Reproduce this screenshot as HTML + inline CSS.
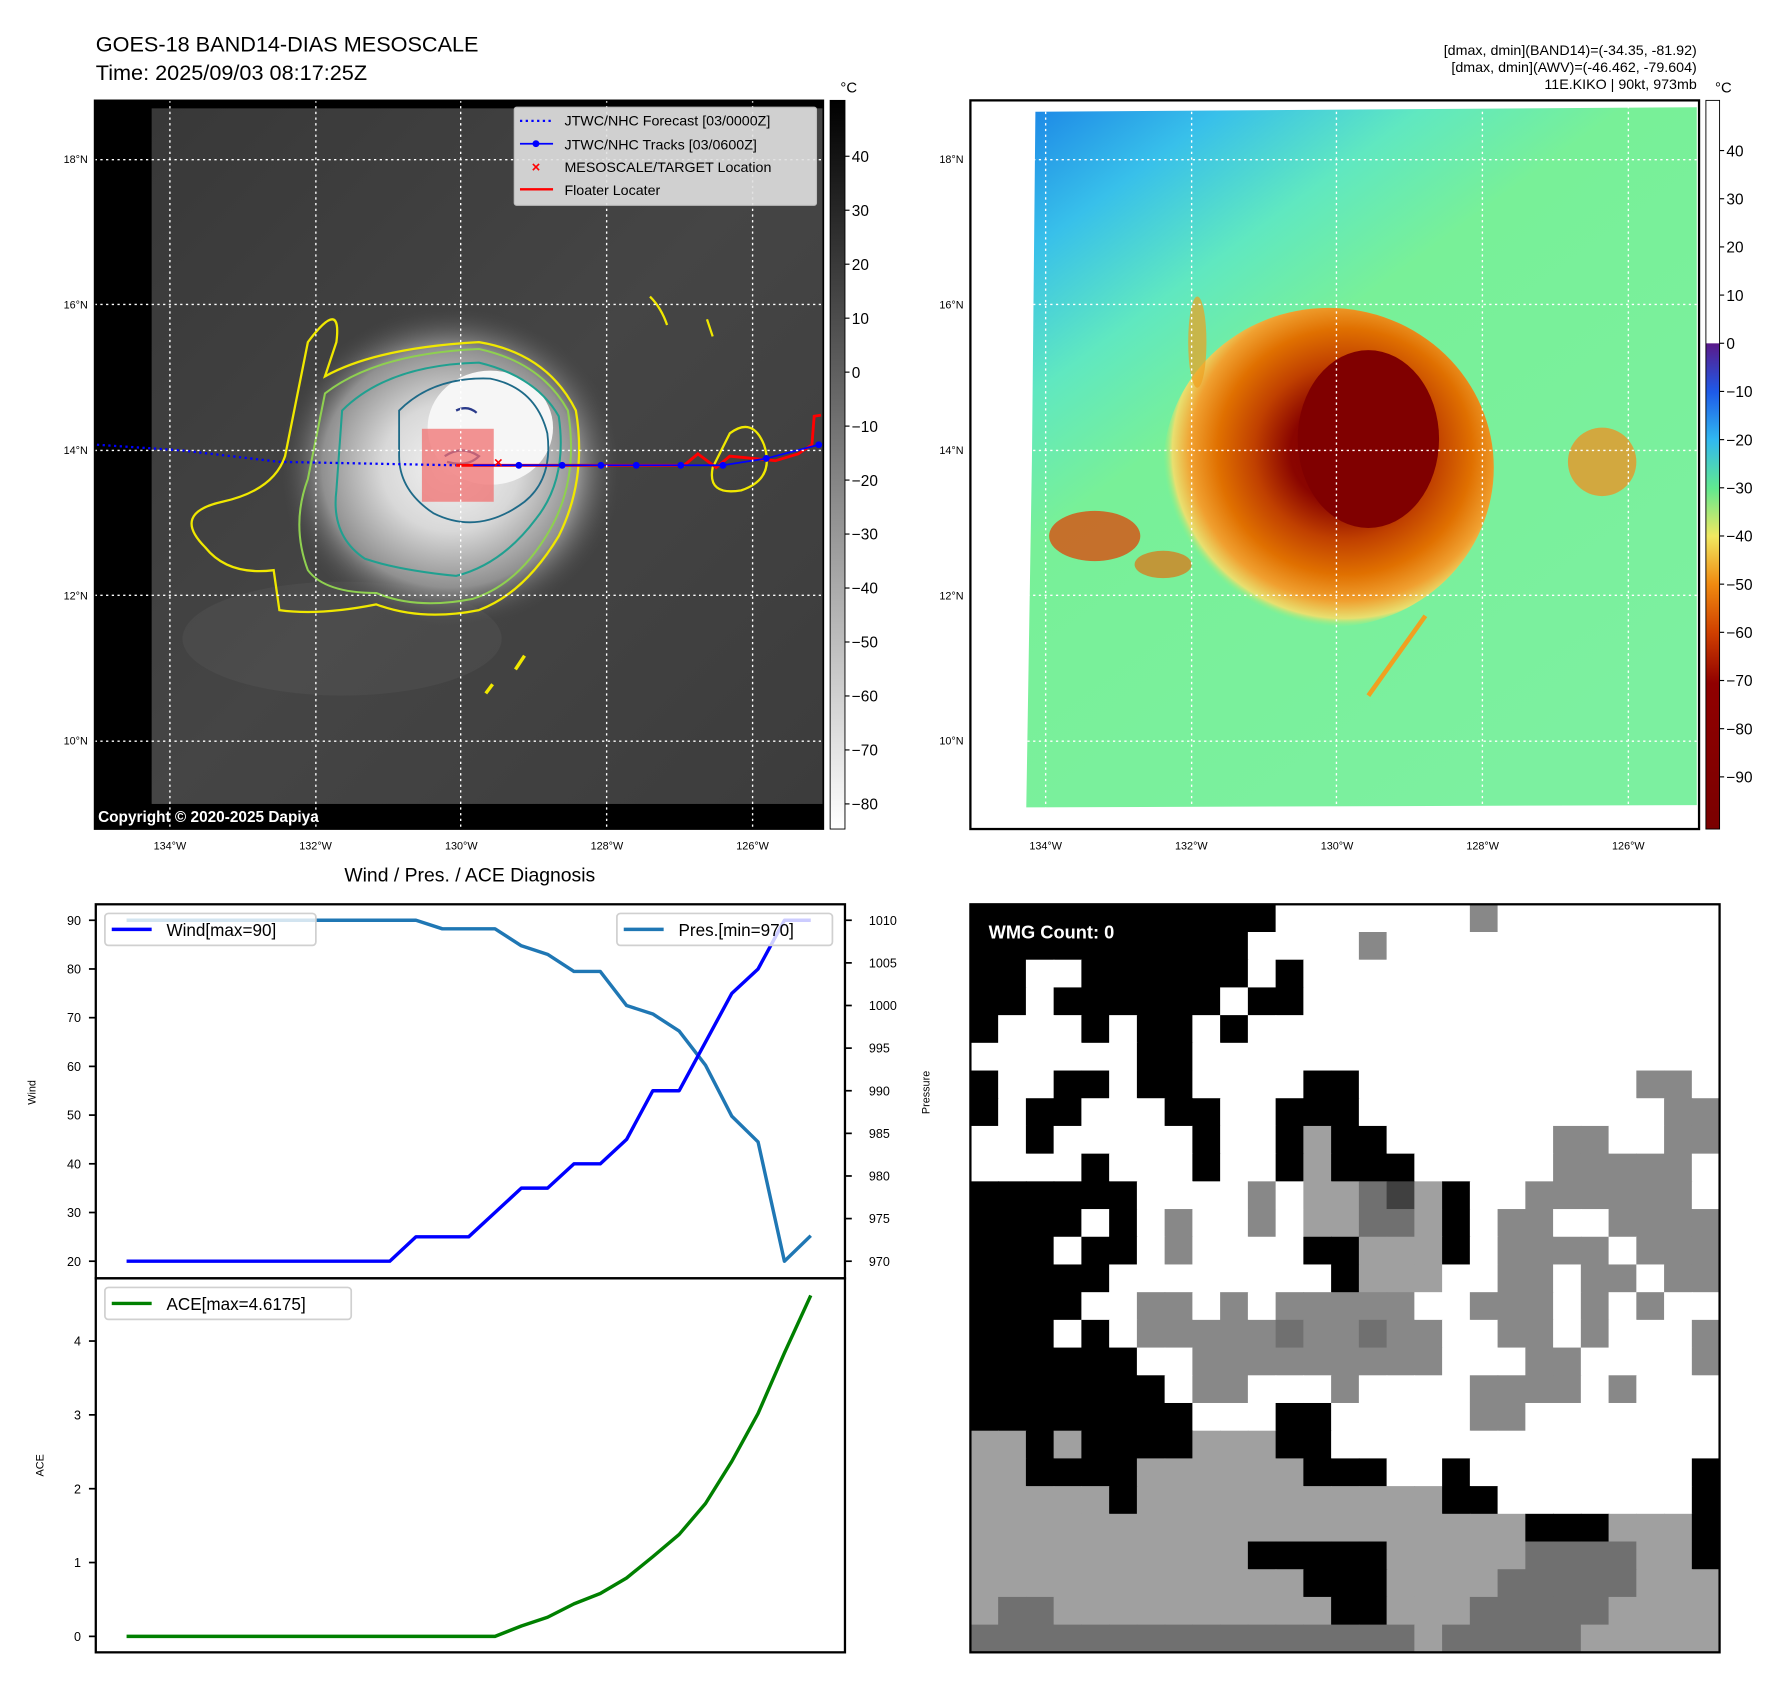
<!DOCTYPE html>
<html><head><meta charset="utf-8"><style>
html,body{margin:0;padding:0;background:#fff;}
svg{display:block;font-family:"Liberation Sans","DejaVu Sans",sans-serif;}
</style></head><body>
<svg id="root" xmlns="http://www.w3.org/2000/svg" width="1788" height="1690" viewBox="0 0 1568 1482">
<defs>
<linearGradient id="cbGray" x1="0" y1="0" x2="0" y2="1"><stop offset="0" stop-color="#000"/><stop offset="1" stop-color="#fff"/></linearGradient>
<linearGradient id="cbColor" x1="0" y1="0" x2="0" y2="1">
<stop offset="0" stop-color="#fff"/><stop offset="0.333" stop-color="#fff"/>
<stop offset="0.334" stop-color="#5a1a8a"/><stop offset="0.40" stop-color="#1e5ae8"/>
<stop offset="0.466" stop-color="#30b8f0"/><stop offset="0.532" stop-color="#60e890"/>
<stop offset="0.598" stop-color="#f0e860"/><stop offset="0.664" stop-color="#f08a10"/>
<stop offset="0.73" stop-color="#d04000"/><stop offset="0.80" stop-color="#900000"/>
<stop offset="1" stop-color="#7a0000"/></linearGradient>
<radialGradient id="stormGray" cx="0.5" cy="0.5" r="0.5">
<stop offset="0" stop-color="#f4f4f4"/><stop offset="0.4" stop-color="#d8d8d8"/><stop offset="0.75" stop-color="#909090"/><stop offset="1" stop-color="#4a4a4a" stop-opacity="0"/></radialGradient>
<linearGradient id="bgRight" x1="0" y1="0" x2="0.7" y2="1">
<stop offset="0" stop-color="#1c86e6"/><stop offset="0.14" stop-color="#38c0ea"/><stop offset="0.28" stop-color="#60e8c0"/><stop offset="0.42" stop-color="#78f098"/><stop offset="1" stop-color="#7cf0a0"/></linearGradient>
<radialGradient id="stormColor" cx="0.55" cy="0.45" r="0.55">
<stop offset="0" stop-color="#800000"/><stop offset="0.3" stop-color="#8a0500"/><stop offset="0.5" stop-color="#c04000"/><stop offset="0.7" stop-color="#e07000"/><stop offset="0.85" stop-color="#f0a030"/><stop offset="0.95" stop-color="#e8e070"/><stop offset="1" stop-color="#90f080" stop-opacity="0"/></radialGradient>
<linearGradient id="bgLeft" x1="0" y1="0" x2="1" y2="1"><stop offset="0" stop-color="#383838"/><stop offset="0.5" stop-color="#454545"/><stop offset="1" stop-color="#3c3c3c"/></linearGradient>
</defs>

<text x="84" y="45" font-size="19">GOES-18 BAND14-DIAS MESOSCALE</text>
<text x="84" y="70" font-size="19">Time: 2025/09/03 08:17:25Z</text>
<g font-size="12.5" text-anchor="end">
<text x="1488" y="48">[dmax, dmin](BAND14)=(-34.35, -81.92)</text>
<text x="1488" y="63">[dmax, dmin](AWV)=(-46.462, -79.604)</text>
<text x="1488" y="78">11E.KIKO | 90kt, 973mb</text>
</g>

<!-- left map -->
<g>
<rect x="83" y="88" width="639" height="639" fill="#000"/>
<rect x="133" y="95" width="589" height="610" fill="url(#bgLeft)"/>
<ellipse cx="300" cy="560" rx="140" ry="50" fill="#6a6a6a" opacity="0.2"/>
<ellipse cx="395" cy="410" rx="150" ry="140" fill="url(#stormGray)"/>
<ellipse cx="430" cy="375" rx="55" ry="50" fill="#f6f6f6"/>
<path d="M270,300 Q300,260 295,300 L285,330 Q330,305 420,300 Q480,310 505,360 Q515,420 490,470 Q460,520 420,535 Q370,545 330,530 Q280,540 245,535 L240,500 Q200,505 180,480 Q150,450 195,440 Q240,430 250,400 Q260,350 270,300Z" fill="none" stroke="#f0e800" stroke-width="2"/>
<path d="M285,345 Q330,310 420,306 Q475,318 498,360 Q508,420 482,465 Q455,512 415,525 Q365,535 330,520 Q285,520 270,500 Q255,460 270,420Z" fill="none" stroke="#8fd050" stroke-width="1.8"/>
<path d="M300,360 Q340,320 420,318 Q470,330 490,365 Q498,420 470,455 Q440,495 400,505 Q350,500 320,490 Q290,470 295,430Z" fill="none" stroke="#20a090" stroke-width="1.8"/>
<path d="M350,360 Q380,330 430,332 Q470,340 480,380 Q485,420 460,440 Q420,470 380,450 Q350,430 350,400Z" fill="none" stroke="#1e6a88" stroke-width="1.6"/>
<path d="M400,360 q10,-5 18,2 M390,400 q15,-10 30,0 q-10,10 -28,5" fill="none" stroke="#2a3a8a" stroke-width="2"/>
<path d="M640,380 q20,-15 30,10 q10,30 -20,40 q-30,5 -25,-20z M570,260 q10,10 15,25 M620,280 l5,15" fill="none" stroke="#f0e800" stroke-width="2"/>
<path d="M460,575 l-8,12 M432,600 l-6,8" stroke="#f0e800" stroke-width="3"/>
<rect x="370" y="376" width="63" height="64" fill="#f07070" opacity="0.75"/>
<polyline points="85,390 160,395 245,405 400,408" fill="none" stroke="#0000ff" stroke-width="2" stroke-dasharray="2,3"/>
<polyline points="400,408 600,408 612,398 628,410 640,400 680,404 700,398 712,390 714,365 720,364" fill="none" stroke="#ff0000" stroke-width="2.5"/>
<polyline points="415,408 455,408 493,408 527,408 558,408 597,408 634,408 672,402 718,390" fill="none" stroke="#0000ff" stroke-width="1.5"/>
<g fill="#0000ff"><circle cx="455" cy="408" r="3"/><circle cx="493" cy="408" r="3"/><circle cx="527" cy="408" r="3"/><circle cx="558" cy="408" r="3"/><circle cx="597" cy="408" r="3"/><circle cx="634" cy="408" r="3"/><circle cx="672" cy="402" r="3"/><circle cx="718" cy="390" r="3"/></g>
<text x="437" y="410" font-size="13" fill="#ff0000" text-anchor="middle" font-weight="bold">×</text>
<g stroke="#fff" stroke-width="1.2" stroke-dasharray="2,3">
<line x1="149" y1="88" x2="149" y2="727"/><line x1="277" y1="88" x2="277" y2="727"/><line x1="404" y1="88" x2="404" y2="727"/><line x1="532" y1="88" x2="532" y2="727"/><line x1="660" y1="88" x2="660" y2="727"/>
<line x1="83" y1="140" x2="722" y2="140"/><line x1="83" y1="267" x2="722" y2="267"/><line x1="83" y1="395" x2="722" y2="395"/><line x1="83" y1="522" x2="722" y2="522"/><line x1="83" y1="650" x2="722" y2="650"/>
</g>
<g>
<rect x="451" y="94" width="265" height="86" fill="#e0e0e0" opacity="0.9" stroke="#ccc" rx="2"/>
<line x1="456" y1="106" x2="485" y2="106" stroke="#0000ff" stroke-width="2" stroke-dasharray="2,3"/>
<line x1="456" y1="126" x2="485" y2="126" stroke="#0000ff" stroke-width="1.5"/><circle cx="470" cy="126" r="3" fill="#0000ff"/>
<text x="470" y="151" font-size="13" fill="#ff0000" text-anchor="middle" font-weight="bold">×</text>
<line x1="456" y1="166" x2="485" y2="166" stroke="#ff0000" stroke-width="2"/>
<g font-size="12.5"><text x="495" y="110">JTWC/NHC Forecast [03/0000Z]</text><text x="495" y="131">JTWC/NHC Tracks [03/0600Z]</text><text x="495" y="151">MESOSCALE/TARGET Location</text><text x="495" y="171">Floater Locater</text></g>
</g>
<text x="86" y="721" font-size="13.5" font-weight="bold" fill="#fff">Copyright © 2020-2025 Dapiya</text>
</g>
<rect x="83" y="88" width="639" height="639" fill="none" stroke="#000" stroke-width="1.5"/>
<g>
<rect x="728" y="88" width="13" height="639" fill="url(#cbGray)" stroke="#000" stroke-width="0.8"/>
<text x="737" y="81" font-size="13">°C</text>
</g>
<g id="cbLeftTicks" font-size="13.5"></g>

<!-- right map -->
<g>
<rect x="851" y="88" width="639" height="639" fill="#fff"/>
<polygon points="908,98 1488,94 1488,706 900,708 905,400" fill="url(#bgRight)"/>
<ellipse cx="1165" cy="410" rx="145" ry="140" fill="url(#stormColor)"/>
<ellipse cx="1200" cy="385" rx="62" ry="78" fill="#800000"/>
<ellipse cx="960" cy="470" rx="40" ry="22" fill="#d85010" opacity="0.8"/>
<ellipse cx="1020" cy="495" rx="25" ry="12" fill="#e07010" opacity="0.7"/>
<ellipse cx="1405" cy="405" rx="30" ry="30" fill="#f09020" opacity="0.75"/>
<ellipse cx="1050" cy="300" rx="8" ry="40" fill="#f0a020" opacity="0.7"/>
<path d="M1250,540 l-50,70" stroke="#f0a020" stroke-width="4"/>
<g stroke="#fff" stroke-width="1.2" stroke-dasharray="2,3">
<line x1="917" y1="88" x2="917" y2="727"/><line x1="1045" y1="88" x2="1045" y2="727"/><line x1="1172" y1="88" x2="1172" y2="727"/><line x1="1300" y1="88" x2="1300" y2="727"/><line x1="1428" y1="88" x2="1428" y2="727"/>
<line x1="851" y1="140" x2="1490" y2="140"/><line x1="851" y1="267" x2="1490" y2="267"/><line x1="851" y1="395" x2="1490" y2="395"/><line x1="851" y1="522" x2="1490" y2="522"/><line x1="851" y1="650" x2="1490" y2="650"/>
</g>
</g>
<rect x="851" y="88" width="639" height="639" fill="none" stroke="#000" stroke-width="2"/>
<g>
<rect x="1496" y="88" width="12" height="639" fill="url(#cbColor)" stroke="#000" stroke-width="0.8"/>
<text x="1504" y="81" font-size="13">°C</text>
</g>
<g id="cbRightTicks" font-size="13.5"></g>
<g id="mapLabels" font-size="9.5"></g>

<!-- chart -->
<text x="412" y="773" font-size="17" text-anchor="middle">Wind / Pres. / ACE Diagnosis</text>
<g id="chart"></g>
<text transform="translate(31,958) rotate(-90)" font-size="9.5" text-anchor="middle">Wind</text>
<text transform="translate(815,958) rotate(-90)" font-size="9.5" text-anchor="middle">Pressure</text>
<text transform="translate(38,1285) rotate(-90)" font-size="9.5" text-anchor="middle">ACE</text>

<!-- WMG -->
<g id="wmg"></g>
<rect x="851" y="793" width="657" height="656" fill="none" stroke="#000" stroke-width="2"/>
<text x="867" y="823" font-size="16" font-weight="bold" fill="#fff">WMG Count: 0</text>
</svg>
<script>
const NS='http://www.w3.org/2000/svg';
function mk(tag,attrs,parent){const e=document.createElementNS(NS,tag);for(const k in attrs)e.setAttribute(k,attrs[k]);parent.appendChild(e);return e;}

// ----- chart data -----
const windValues=[20,20,20,20,20,20,20,20,20,20,20,25,25,25,30,35,35,40,40,45,55,55,65,75,80,90,90];
const presValues=[1010,1010,1010,1010,1010,1010,1010,1010,1010,1010,1010,1010,1009,1009,1009,1007,1006,1004,1004,1000,999,997,993,987,984,970,973];
const aceValues=[0,0,0,0,0,0,0,0,0,0,0,0,0,0,0,0.14,0.26,0.44,0.58,0.79,1.08,1.38,1.80,2.37,3.02,3.84,4.6175];
const windTicks=[20,30,40,50,60,70,80,90];
const presTicks=[970,975,980,985,990,995,1000,1005,1010];
const aceTicks=[0,1,2,3,4];

const xS=i=>111+i*(600/26);
const yWind=v=>1106-(v-20)*(299/70);
const yPres=v=>1106-(v-970)*(299/40);
const yAce=v=>1435-v*64.75;

const chart=document.getElementById('chart');
const ax1=mk('rect',{x:84,y:793,width:657,height:328,fill:'none',stroke:'#000','stroke-width':2},chart);


const ax2=mk('rect',{x:84,y:1121,width:657,height:328,fill:'none',stroke:'#000','stroke-width':2},chart);



function ticks(list,yf,side,name){
  list.forEach(v=>{
    const y=yf(v);
    const g=mk('g',{},chart);
    
    
    if(side==='l'){mk('line',{x1:78,y1:y,x2:84,y2:y,stroke:'#000','stroke-width':1.5},g);
      const t=mk('text',{x:71,y:y+4,'font-size':11,'text-anchor':'end'},g);t.textContent=v;}
    else{mk('line',{x1:741,y1:y,x2:747,y2:y,stroke:'#000','stroke-width':1.5},g);
      const t=mk('text',{x:762,y:y+4,'font-size':11},g);t.textContent=v;}
  });
}
ticks(windTicks,yWind,'l','wind');
ticks(presTicks,yPres,'r','pressure');
ticks(aceTicks,yAce,'l','ace');

function line(vals,yf,color,name){
  const p=mk('polyline',{points:vals.map((v,i)=>xS(i).toFixed(1)+','+yf(v).toFixed(1)).join(' '),fill:'none',stroke:color,'stroke-width':3,'stroke-linejoin':'round'},chart);
  
  
}
line(presValues,yPres,'#1f77b4','pressure-line');
line(windValues,yWind,'#0000ff','wind-line');
line(aceValues,yAce,'#008000','ace-line');

function legend(x,y,w,color,label,name){
  const g=mk('g',{},chart);
  
  
  mk('rect',{x:x,y:y,width:w,height:28,fill:'#fff','fill-opacity':0.8,stroke:'#d0d0d0','stroke-width':1.5,rx:3},g);
  mk('line',{x1:x+6,y1:y+14,x2:x+41,y2:y+14,stroke:color,'stroke-width':3},g);
  const t=mk('text',{x:x+54,y:y+20,'font-size':15},g);t.textContent=label;
}
legend(92,801,185,'#0000ff','Wind[max=90]','wind-legend');
legend(541,801,189,'#1f77b4','Pres.[min=970]','pressure-legend');
legend(92,1129,216,'#008000','ACE[max=4.6175]','ace-legend');

// ----- colorbar ticks -----
const cbLeftTickValues=[40,30,20,10,0,-10,-20,-30,-40,-50,-60,-70,-80];
const cbRightTickValues=[40,30,20,10,0,-10,-20,-30,-40,-50,-60,-70,-80,-90];
const cbL=document.getElementById('cbLeftTicks');
cbLeftTickValues.forEach(v=>{const y=137+(40-v)*4.733;
  mk('line',{x1:741,y1:y,x2:745,y2:y,stroke:'#000'},cbL);
  const t=mk('text',{x:747,y:y+5},cbL);t.textContent=v<0?'−'+(-v):v;
  
  });
const cbR=document.getElementById('cbRightTicks');
cbRightTickValues.forEach(v=>{const y=301-v*4.225;
  mk('line',{x1:1508,y1:y,x2:1512,y2:y,stroke:'#000'},cbR);
  const t=mk('text',{x:1514,y:y+5},cbR);t.textContent=v<0?'−'+(-v):v;
  
  });

// ----- map labels -----
const latLabels=['18°N','16°N','14°N','12°N','10°N'];
const lonLabels=['134°W','132°W','130°W','128°W','126°W'];
const ml=document.getElementById('mapLabels');
latLabels.forEach((s,i)=>{const y=140+i*127.5+3;
  [77,845].forEach(x=>{const t=mk('text',{x:x,y:y,'text-anchor':'end'},ml);t.textContent=s;
  
  });});
lonLabels.forEach((s,i)=>{[149,917].forEach(x0=>{const t=mk('text',{x:x0+i*127.75,y:745,'text-anchor':'middle'},ml);t.textContent=s;
  
  });});

// ----- WMG grid -----
const wmgRows=[
"BBBBBBBBBBBWWWWWWWMWWWWWWWW",
"BBBBBBBBBBWWWWMWWWWWWWWWWWW",
"BBWWBBBBBBWBWWWWWWWWWWWWWWW",
"BBWBBBBBBWBBWWWWWWWWWWWWWWW",
"BWWWBWBBWBWWWWWWWWWWWWWWWWW",
"WWWWWWBBWWWWWWWWWWWWWWWWWWW",
"BWWBBWBBWWWWBBWWWWWWWWWWMMW",
"BWBBWWWBBWWBBBWWWWWWWWWWWMM",
"WWBWWWWWBWWBLBBWWWWWWMMWWMM",
"WWWWBWWWBWWBLBBBWWWWWMMMMMW",
"BBBBBBWWWWMWLLDKLBWWMMMMMMW",
"BBBBWBWMWWMWLLDDLBWMMWWMMMM",
"BBBWBBWMWWWWBBLLLBWMMMMWMMM",
"BBBBBWWWWWWWWBLLLWWMMWMMWMM",
"BBBBWWMMWMWMMMMMWWMMMWMWMWW",
"BBBWBWMMMMMDMMDMMWWMMWMWWWM",
"BBBBBBWWMMMMMMMMMWWWMMWWWWM",
"BBBBBBBWMMWWWMWWWWMMMMWMWWW",
"BBBBBBBBWWWBBWWWWWMMWWWWWWW",
"LLBLBBBBLLLBBWWWWWWWWWWWWWW",
"LLBBBBLLLLLLBBBWWBWWWWWWWWB",
"LLLLLBLLLLLLLLLLLBBWWWWWWWB",
"LLLLLLLLLLLLLLLLLLLLBBBLLLB",
"LLLLLLLLLLBBBBBLLLLLDDDDLLB",
"LLLLLLLLLLLLBBBLLLLDDDDDLLL",
"LDDLLLLLLLLLLBBLLLDDDDDLLLL",
"DDDDDDDDDDDDDDDDLDDDDDLLLLL"];
const wmgColors={W:'#ffffff',B:'#000000',L:'#a0a0a0',M:'#888888',D:'#707070',K:'#404040'};
const wmg=document.getElementById('wmg');


const cw=657/27,ch=656/27;
wmgRows.forEach((row,r)=>{for(let c=0;c<27;c++){
  mk('rect',{x:(851+c*cw).toFixed(2),y:(793+r*ch).toFixed(2),width:(cw+0.6).toFixed(2),height:(ch+0.6).toFixed(2),fill:wmgColors[row[c]]||'#fff'},wmg);
}});
</script>
</body></html>
